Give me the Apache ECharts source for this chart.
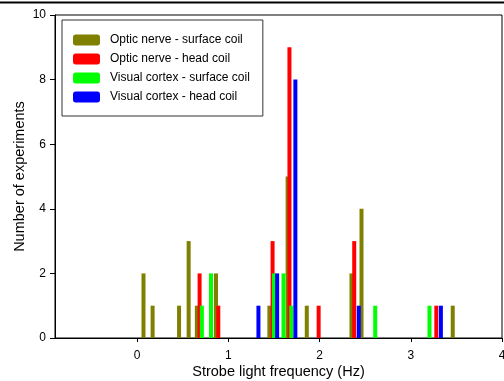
<!DOCTYPE html>
<html>
<head>
<meta charset="utf-8">
<script src="https://cdn.jsdelivr.net/npm/echarts@6/dist/echarts.min.js"></script>
<style>html,body{margin:0;padding:0;background:#fff}#c{width:504px;height:381px}</style>
</head>
<body>
<div id="c"></div>
<script>
var seriesNames = ['Optic nerve - surface coil','Optic nerve - head coil','Visual cortex - surface coil','Visual cortex - head coil'];
var opticSurface = [[0.07,2],[0.17,1],[0.46,1],[0.565,3],[0.655,1],[0.865,2],[1.45,1],[1.65,5],[1.86,1],[2.35,2],[2.46,4],[3.46,1]];
var opticHead = [[0.685,2],[0.89,1],[1.485,3],[1.67,9],[1.99,1],[2.38,3],[3.28,1]];
var visualSurface = [[0.71,1],[0.81,2],[1.50,2],[1.605,2],[1.69,1],[2.61,1],[3.205,1]];
var visualHead = [[1.33,1],[1.535,2],[1.735,8],[2.43,1],[3.33,1]];
var xTicks = [0,1,2,3,4];
var colors = ['#808000','#ff0000','#00ff00','#0000ff'];
var allData = [opticSurface, opticHead, visualSurface, visualHead];

var font = '"Liberation Sans", Arial, sans-serif';
var chart = echarts.init(document.getElementById('c'), null, {renderer:'canvas'});
chart.setOption({
  animation:false,
  color: colors,
  grid:{left:55, right:2, top:15, bottom:43, outerBoundsMode:'none', containLabel:false,
    show:true, borderColor:'#000', borderWidth:1},
  legend:{
    orient:'vertical', left:62, top:20,
    padding:[14,13,13,11],
    itemWidth:27, itemHeight:11, itemGap:7,
    icon:'roundRect',
    borderColor:'#333', borderWidth:1,
    textStyle:{fontFamily:font, fontSize:12, color:'#000', padding:[0,0,0,5]},
    data: seriesNames
  },
  xAxis:{
    type:'value', min:-0.9, max:4,
    name:'Strobe light frequency (Hz)', nameLocation:'middle', nameGap:26, nameMoveOverlap:false,
    nameTextStyle:{fontFamily:font, fontSize:14.5, color:'#000'},
    axisLine:{show:true, onZero:false, lineStyle:{color:'#000', width:1}},
    axisTick:{show:true, length:4, customValues:xTicks, lineStyle:{color:'#000'}},
    axisLabel:{customValues:xTicks, margin:12, fontFamily:font, fontSize:12, color:'#000'},
    splitLine:{show:false}
  },
  yAxis:{
    type:'value', min:0, max:10, interval:2,
    name:'Number of experiments', nameLocation:'middle', nameGap:28, nameMoveOverlap:false,
    nameTextStyle:{fontFamily:font, fontSize:14.5, color:'#000'},
    axisLine:{show:true, onZero:false, lineStyle:{color:'#000', width:1}},
    axisTick:{show:true, length:5, lineStyle:{color:'#000'}},
    axisLabel:{margin:9, fontFamily:font, fontSize:12, color:'#000'},
    splitLine:{show:false}
  },
  graphic:[{type:'rect', shape:{x:0,y:1.5,width:504,height:2}, style:{fill:'#000'}}],
  series: seriesNames.map(function(n,i){
    return {name:n, type:'bar', data:allData[i], barWidth:4, barGap:'-100%',
      itemStyle:{color:colors[i]}};
  })
});
</script>
</body>
</html>
